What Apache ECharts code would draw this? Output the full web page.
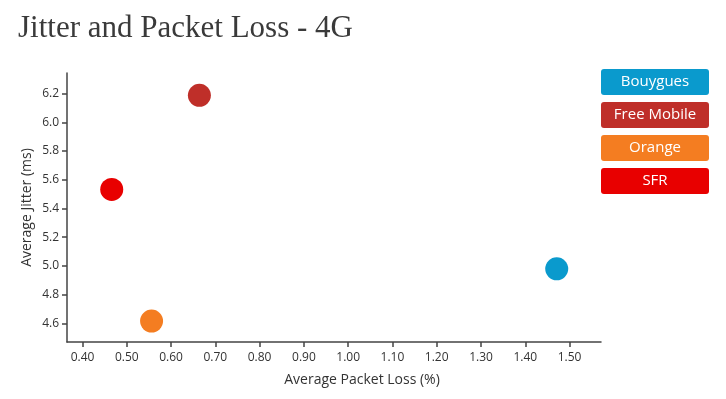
<!DOCTYPE html>
<html><head><meta charset="utf-8">
<script src="https://cdn.jsdelivr.net/npm/echarts@6/dist/echarts.min.js"></script>
<style>html,body{margin:0;padding:0;background:#fff}#c{width:726px;height:399px}</style>
</head><body><div id="c"></div>
<script>
var operators = ['Bouygues', 'Free Mobile', 'Orange', 'SFR'];
var colors = ['#0a9acd', '#bf2f29', '#f47d21', '#e80000'];
var packetLoss = [1.471, 0.664, 0.556, 0.466];
var jitter = [4.98, 6.188, 4.617, 5.533];
var xTicks = [0.4, 0.5, 0.6, 0.7, 0.8, 0.9, 1.0, 1.1, 1.2, 1.3, 1.4, 1.5];
var yTicks = [4.6, 4.8, 5.0, 5.2, 5.4, 5.6, 5.8, 6.0, 6.2];

var chart = echarts.init(document.getElementById('c'));
var rich = {};
operators.forEach(function (n, i) {
  rich['s' + i] = {
    backgroundColor: colors[i], color: '#fff', width: 108, height: 26, lineHeight: 26,
    align: 'center', borderRadius: 3, fontSize: 15, fontFamily: 'Open Sans'
  };
});
var axisFont = {color: '#333', fontSize: 12, fontFamily: 'Open Sans'};
chart.setOption({
  animation: false,
  title: {
    text: 'Jitter and Packet Loss - 4G', left: 13, top: 8,
    textStyle: {fontFamily: 'Liberation Serif', fontWeight: 'normal', fontSize: 31, color: '#3a3a3a'}
  },
  legend: {
    orient: 'vertical', left: 591, top: 64, itemGap: 7, itemWidth: 0, itemHeight: 0,
    selectedMode: false, icon: 'rect',
    data: operators,
    formatter: function (n) { return '{s' + operators.indexOf(n) + '|' + n + '}'; },
    textStyle: {rich: rich}
  },
  grid: {left: 67, top: 73, width: 534, height: 269, containLabel: false},
  xAxis: {
    type: 'value', min: 0.365, max: 1.571,
    name: 'Average Packet Loss (%)', nameLocation: 'middle', nameGap: 31,
    nameTextStyle: {color: '#333', fontSize: 14, fontFamily: 'Open Sans', padding: [0, 0, 0, 56]},
    axisLine: {lineStyle: {color: '#444', width: 1.5}},
    axisTick: {show: true, length: 5, customValues: xTicks, lineStyle: {color: '#444', width: 1.5}},
    axisLabel: Object.assign({customValues: xTicks, margin: 10,
      formatter: function (v) { return v.toFixed(2); }}, axisFont),
    splitLine: {show: false}
  },
  yAxis: {
    type: 'value', min: 4.471, max: 6.343,
    name: 'Average Jitter (ms)', nameLocation: 'middle', nameGap: 33, nameRotate: 90,
    nameMoveOverlap: false,
    nameTextStyle: {color: '#333', fontSize: 14, fontFamily: 'Open Sans'},
    axisLine: {show: true, lineStyle: {color: '#444', width: 1.5}},
    axisTick: {show: true, length: 5, customValues: yTicks, lineStyle: {color: '#444', width: 1.5}},
    axisLabel: Object.assign({customValues: yTicks, margin: 8,
      formatter: function (v) { return v.toFixed(1); }}, axisFont),
    splitLine: {show: false}
  },
  series: operators.map(function (n, i) {
    return {
      name: n, type: 'scatter', symbolSize: 23,
      itemStyle: {color: colors[i], opacity: 1},
      data: [[packetLoss[i], jitter[i]]]
    };
  })
});
</script></body></html>
